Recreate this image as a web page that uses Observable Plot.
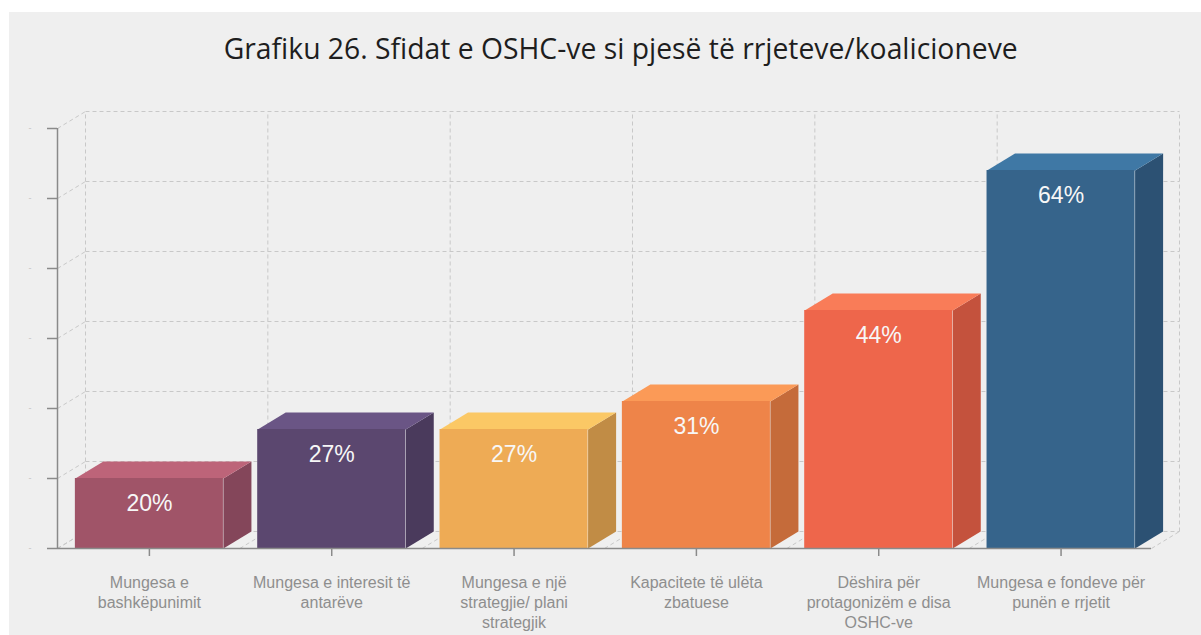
<!DOCTYPE html>
<html>
<head>
<meta charset="utf-8">
<script src="https://cdn.jsdelivr.net/npm/d3@7"></script>
<script src="https://cdn.jsdelivr.net/npm/@observablehq/plot@0.6"></script>
<style>
  html, body { margin: 0; padding: 0; background: #ffffff; }
  #panel { position: absolute; left: 9px; top: 12px; width: 1192px; height: 623px; background: #efefef; overflow: hidden; }
  #title { height: 78px; box-sizing: border-box; padding-top: 15px; padding-left: 32px; text-align: center;
           font-family: "Open Sans", "Noto Sans", sans-serif; font-size: 30px; color: #1e1e1e; white-space: nowrap; }
  #title span { display: inline-block; transform-origin: center; }
</style>
</head>
<body>
<div id="panel">
  <div id="title"><span>Grafiku 26. Sfidat e OSHC-ve si pjesë të rrjeteve/koalicioneve</span></div>
  <div id="chart"></div>
</div>
<script>
const categories = [
  "Mungesa e\nbashkëpunimit",
  "Mungesa e interesit të\nantarëve",
  "Mungesa e një\nstrategjie/ plani\nstrategjik",
  "Kapacitete të ulëta\nzbatuese",
  "Dëshira për\nprotagonizëm e disa\nOSHC-ve",
  "Mungesa e fondeve për\npunën e rrjetit"
];
const values = [20, 27, 27, 31, 44, 64];
const frontColors = ["#a05468", "#5b476f", "#eeab55", "#ee8449", "#ee664b", "#36648b"];
const topColors   = ["#bd6479", "#6a5585", "#fbc865", "#fb9a57", "#f97c58", "#3f78a5"];
const sideColors  = ["#84465a", "#4a3a5c", "#c18c45", "#c56b3a", "#c4523d", "#2c5173"];
const yTicks = [10, 20, 30, 40, 50, 60, 70];

// 3D depth offsets (in scale units) and bar insets
const DX = 0.1536, DY = 2.43;
const PADL = 0.098, PADR = 0.09;
const Y0 = 10, Y1 = 70, N = categories.length;

const bars = values.map((v, i) => ({i, v, cat: categories[i], front: frontColors[i], top: topColors[i], side: sideColors[i]}));

const grid = [];
yTicks.forEach(t => {
  grid.push({x1: DX, y1: t + DY, x2: N + DX, y2: t + DY});   // back wall horizontal
  grid.push({x1: 0, y1: t, x2: DX, y2: t + DY});             // left wall diagonal
});
d3.range(N + 1).forEach(k => {
  grid.push({x1: k + DX, y1: Y0 + DY, x2: k + DX, y2: Y1 + DY}); // back wall vertical
  grid.push({x1: k, y1: Y0, x2: k + DX, y2: Y0 + DY});           // floor diagonal
});

const faceMarks = [];
bars.forEach(b => {
  const xa = b.i + PADL, xb = b.i + 1 - PADR;
  const side = [[xb, Y0], [xb, b.v], [xb + DX, b.v + DY], [xb + DX, Y0 + DY]];
  const top = [[xa, b.v], [xb, b.v], [xb + DX, b.v + DY], [xa + DX, b.v + DY]];
  faceMarks.push(Plot.line(side, {x: d => d[0], y: d => d[1], curve: "linear-closed", fill: b.side, stroke: "none"}));
  faceMarks.push(Plot.line(top, {x: d => d[0], y: d => d[1], curve: "linear-closed", fill: b.top, stroke: "none"}));
});

const chart = Plot.plot({
  width: 1192,
  height: 545,
  marginLeft: 48,
  marginRight: 50,
  marginTop: 38,
  marginBottom: 87,
  style: {background: "transparent", fontFamily: "'Liberation Sans', Arial, sans-serif", overflow: "visible"},
  x: {type: "linear", domain: [0, N]},
  y: {type: "linear", domain: [Y0, Y1]},
  color: {type: "identity"},
  marks: [
    Plot.link(grid, {x1: "x1", y1: "y1", x2: "x2", y2: "y2", stroke: "#c8c8c8", strokeWidth: 1, strokeDasharray: "4,3"}),
    ...faceMarks,
    Plot.rectY(bars, {x1: d => d.i + PADL, x2: d => d.i + 1 - PADR, y1: Y0, y2: d => d.v, fill: d => d.front}),
    Plot.text(bars, {x: d => d.i + 0.5 + (PADL - PADR) / 2, y: d => d.v, text: d => d.v + "%", dy: 25,
      fill: "#f7f7f7", fontSize: 23}),
    Plot.ruleX([0], {y1: Y0, y2: Y1, stroke: "#8a8a8a", strokeWidth: 1.5}),
    Plot.ruleY([Y0], {x1: 0, x2: N, stroke: "#8a8a8a", strokeWidth: 1.5}),
    Plot.axisY(yTicks, {tickSize: 10, tickPadding: 16, tickFormat: () => "-", stroke: "#8a8a8a", strokeWidth: 1.5,
      fill: "#c4c4c4", fontSize: 9, label: null}),
    Plot.axisX(bars.map(b => b.i + 0.5 + (PADL - PADR) / 2), {tickSize: 8, tickFormat: () => "", stroke: "#8a8a8a",
      strokeWidth: 1.5, label: null}),
    Plot.text(bars, {x: d => d.i + 0.5 + (PADL - PADR) / 2, y: Y0, text: "cat", dy: 25, lineAnchor: "top",
      lineHeight: 1.25, fontSize: 16, fill: "#8e8e8e"})
  ]
});
document.getElementById("chart").appendChild(chart);

// fit title width to the reference's line length
const span = document.querySelector("#title span");
const w = span.getBoundingClientRect().width;
span.style.transform = `scaleX(${794 / w})`;
</script>
</body>
</html>
